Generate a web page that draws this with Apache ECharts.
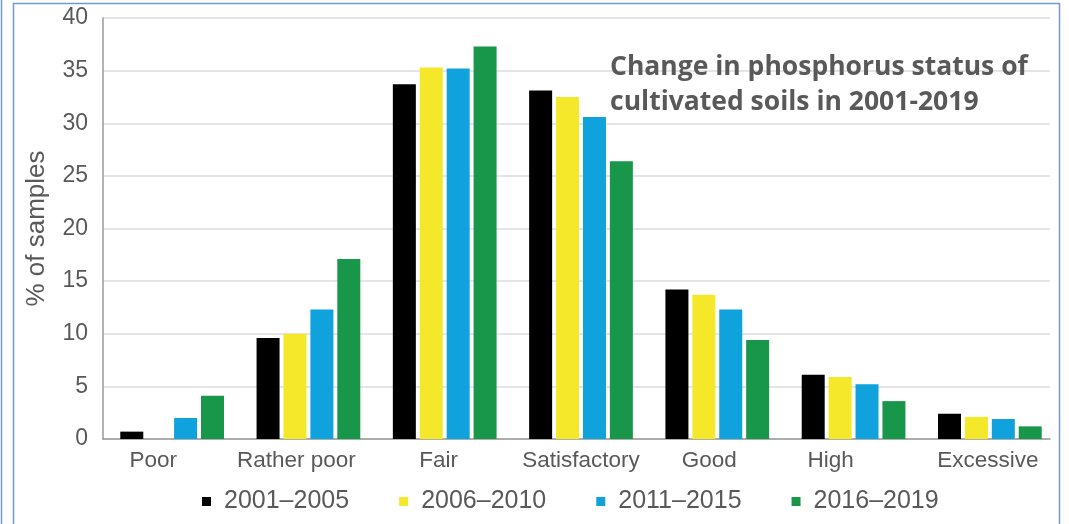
<!DOCTYPE html>
<html>
<head>
<meta charset="utf-8">
<title>Change in phosphorus status of cultivated soils in 2001-2019</title>
<script src="https://cdn.jsdelivr.net/npm/echarts@6/dist/echarts.min.js"></script>
<style>
  html, body { margin: 0; padding: 0; background: #ffffff; }
  #chart { width: 1069px; height: 524px; }
</style>
</head>
<body>
<div id="chart"></div>
<script>
// Phosphorus status classes
const categories = ['Poor', 'Rather poor', 'Fair', 'Satisfactory', 'Good', 'High', 'Excessive'];

// Share of samples (%) per period
const periods = ['2001–2005', '2006–2010', '2011–2015', '2016–2019'];
const values2001_2005 = [0.7, 9.6, 33.7, 33.1, 14.2, 6.1, 2.4];
const values2006_2010 = [0, 10.0, 35.3, 32.5, 13.7, 5.9, 2.1];
const values2011_2015 = [2.0, 12.3, 35.2, 30.6, 12.3, 5.2, 1.9];
const values2016_2019 = [4.1, 17.1, 37.3, 26.4, 9.4, 3.6, 1.2];

const yTicks = { min: 0, max: 40, interval: 5 };

const titleText = 'Change in phosphorus status of\ncultivated soils in 2001-2019';
const yAxisName = '% of samples';

// Styling
const colors = ['#000000', '#f5e72a', '#0fa2dc', '#18964a'];
const textGrey = '#595959';
const axisGrey = '#9a9a9a';
const baseFont = '"Liberation Sans", Arial, sans-serif';
// horizontal nudges (px) of the category labels
const labelNudge = [-19, -12, -6, 0, -8, -23, -2];

const seriesValues = [values2001_2005, values2006_2010, values2011_2015, values2016_2019];

const chart = echarts.init(document.getElementById('chart'), null, { renderer: 'canvas' });

const categoryData = categories.map((c, i) => {
  const n = labelNudge[i];
  return {
    value: c,
    textStyle: { padding: n < 0 ? [0, -2 * n, 0, 0] : [0, 0, 0, 2 * n] }
  };
});

chart.setOption({
  animation: false,
  backgroundColor: '#ffffff',
  color: colors,
  // grid 0 carries the bars, grid 1 the frame of axis lines and gridlines
  grid: [
    { left: 104, right: 11, top: 18, bottom: 85, containLabel: false },
    { left: 103, right: 19, top: 18, bottom: 85, containLabel: false }
  ],
  graphic: [
    {
      type: 'rect',
      shape: { x: 13.5, y: 3.5, width: 1046, height: 540 },
      style: { fill: 'none', stroke: '#7399d0', lineWidth: 1.5 },
      silent: true, z: 100
    },
    {
      type: 'line',
      shape: { x1: 1.5, y1: 0, x2: 1.5, y2: 524 },
      style: { stroke: '#7399d0', lineWidth: 1.5 },
      silent: true, z: 100
    },
    {
      type: 'text',
      left: 610, top: 50,
      style: {
        text: titleText,
        fill: textGrey,
        font: 'bold 26.5px "Open Sans", Lato, sans-serif',
        lineHeight: 35
      },
      z: 100
    }
  ],
  legend: {
    data: periods,
    left: 197,
    top: 484,
    itemWidth: 9,
    itemHeight: 9,
    itemGap: 50,
    icon: 'rect',
    textStyle: {
      color: textGrey,
      fontSize: 25,
      fontFamily: baseFont,
      padding: [0, 0, 0, 8]
    }
  },
  xAxis: [
    {
      type: 'category',
      gridIndex: 0,
      data: categoryData,
      axisLine: { show: false },
      axisTick: { show: false },
      axisLabel: {
        color: textGrey,
        fontSize: 22.5,
        fontFamily: baseFont,
        margin: 10,
        interval: 0
      },
      splitLine: { show: false }
    },
    {
      type: 'value',
      gridIndex: 1,
      min: 0,
      max: 1,
      axisLine: { show: true, onZero: false, lineStyle: { color: axisGrey, width: 1.5 } },
      axisTick: { show: false },
      axisLabel: { show: false },
      splitLine: { show: false }
    }
  ],
  yAxis: [
    {
      type: 'value',
      gridIndex: 0,
      min: yTicks.min,
      max: yTicks.max,
      interval: yTicks.interval,
      axisLine: { show: false },
      axisTick: { show: false },
      axisLabel: { show: false },
      splitLine: { show: false }
    },
    {
      type: 'value',
      gridIndex: 1,
      min: yTicks.min,
      max: yTicks.max,
      interval: yTicks.interval,
      name: yAxisName,
      nameLocation: 'middle',
      nameGap: 53,
      nameTextStyle: {
        color: textGrey,
        fontSize: 26,
        fontFamily: baseFont
      },
      axisLine: { show: true, lineStyle: { color: axisGrey, width: 1.5 } },
      axisTick: { show: false },
      axisLabel: {
        color: textGrey,
        fontSize: 23,
        fontFamily: baseFont,
        margin: 15
      },
      splitLine: { show: true, lineStyle: { color: '#dcdcdc', width: 1.5 } }
    }
  ],
  series: periods.map((p, i) => ({
    name: p,
    type: 'bar',
    xAxisIndex: 0,
    yAxisIndex: 0,
    data: seriesValues[i],
    barWidth: 23,
    barGap: '17%',
    barCategoryGap: '23%',
    itemStyle: { color: colors[i] },
    z: 3
  }))
});
</script>
</body>
</html>
